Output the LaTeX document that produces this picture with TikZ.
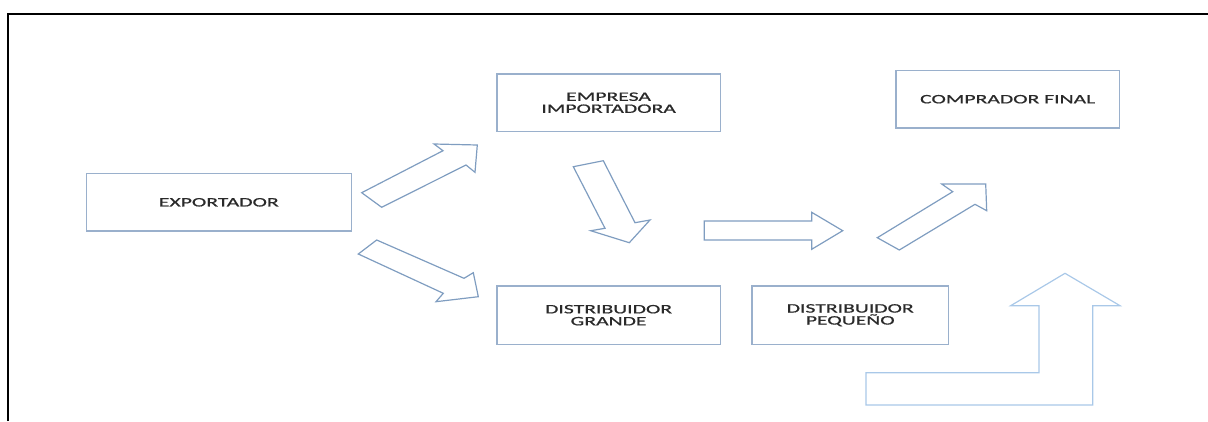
\documentclass[tikz,border=0pt]{standalone}
\usepackage{fontspec}
\newfontfamily\boxfont[FakeStretch=1.68,FakeBold=0.9]{Carlito}
\definecolor{boxline}{HTML}{9AB0CC}
\definecolor{arrline}{HTML}{7F9DC0}
\definecolor{bentline}{HTML}{A9C8E8}
\definecolor{txt}{HTML}{2A2A2A}
\tikzset{
  boxnode/.style={draw=boxline, line width=1.2pt, rectangle, inner sep=0pt, align=center,
    text=txt, font={\boxfont\fontsize{12.9pt}{12pt}\selectfont}},
  blockarrow/.style={draw=arrline, line width=1.2pt, line join=miter},
  bentarrow/.style={draw=bentline, line width=1.2pt, line join=miter},
  frameline/.style={draw=black, line width=2pt}
}
\begin{document}
\begin{tikzpicture}[x=1pt,y=-1pt]
\useasboundingbox (0,0) rectangle (1208,421);
% frame
\draw[frameline] (7.7,421) -- (7.7,14) -- (1208,14);
% boxes
\node[boxnode, minimum width=265pt, minimum height=57.3pt] (exp) at (218.8,202.3) {EXPORTADOR};
\node[boxnode, minimum width=223.3pt, minimum height=57.3pt] (imp) at (608.6,102.7) {EMPRESA\\IMPORTADORA};
\node[boxnode, minimum width=223.4pt, minimum height=57.7pt] (comp) at (1007.7,99.2) {COMPRADOR FINAL};
\node[boxnode, minimum width=223.3pt, minimum height=58.3pt] (dg) at (608.6,315.2) {DISTRIBUIDOR\\GRANDE};
\node[boxnode, minimum width=196.4pt, minimum height=58.3pt] (dp) at (850.2,315.2) {DISTRIBUIDOR\\PEQUEÑO};
% block arrows
\draw[blockarrow] (361.7,192.7) -- (443,150.7) -- (434,144) -- (477.3,145) -- (475,172.3) -- (466,165) -- (381.7,207.3) -- cycle;
\draw[blockarrow] (376.7,240) -- (464,278.3) -- (473.3,272.7) -- (478.3,296.7) -- (436,301.7) -- (443.3,293.3) -- (358.3,254) -- cycle;
\draw[blockarrow] (573.3,166.7) -- (603.3,160.7) -- (635,222.7) -- (650,220) -- (629.3,242.7) -- (590.7,230.7) -- (605,228.3) -- cycle;
\draw[blockarrow] (704.3,221) -- (811.7,221) -- (811.7,212.3) -- (842.7,230.7) -- (811.7,249.3) -- (811.7,240) -- (704.3,240) -- cycle;
\draw[blockarrow] (877.3,237.7) -- (952.7,191.7) -- (941.7,184) -- (985.7,184) -- (986.7,210.7) -- (975,204.3) -- (899.3,250) -- cycle;
% bent-up arrow
\draw[bentarrow] (866,405) -- (866,372.7) -- (1039,372.7) -- (1039,305.7) -- (1010.7,305.7) -- (1065,273.3) -- (1120,305.7) -- (1092.7,305.7) -- (1092.7,405) -- cycle;
\end{tikzpicture}
\end{document}
